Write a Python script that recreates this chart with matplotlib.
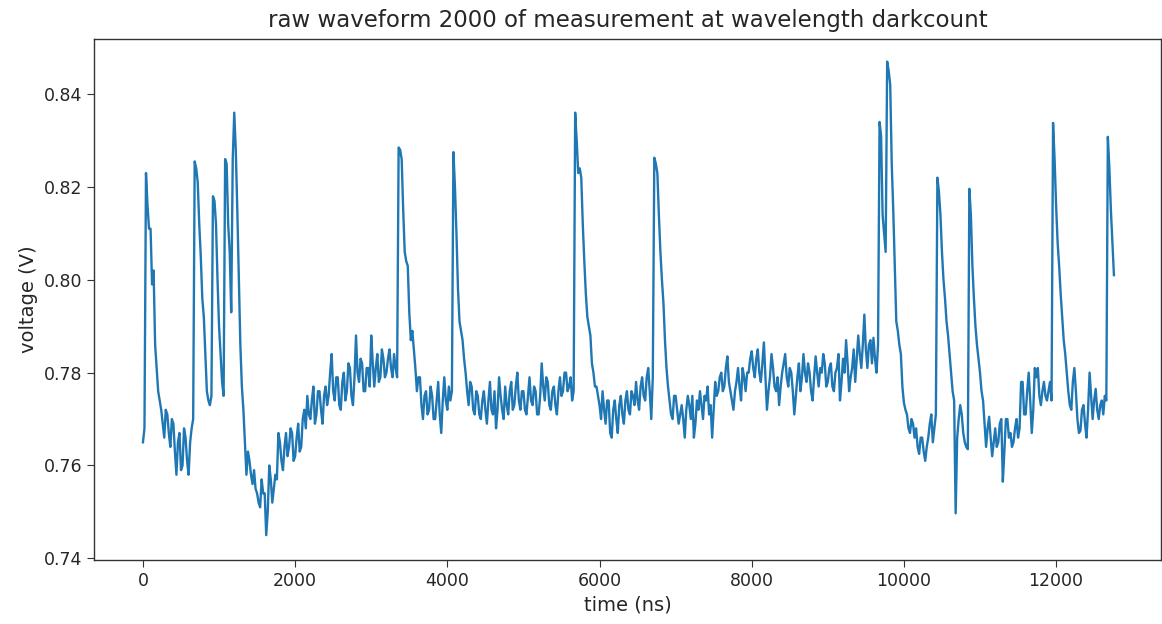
import numpy as np
import matplotlib
matplotlib.use("Agg")
import matplotlib.pyplot as plt

sample_step_ns = 20

voltage = [
    # 0 - 980 ns
    0.765, 0.768, 0.823, 0.816, 0.811, 0.811, 0.799, 0.802, 0.786, 0.781,
    0.776, 0.774, 0.772, 0.769, 0.766, 0.772, 0.771, 0.767, 0.764, 0.770,
    0.769, 0.763, 0.758, 0.765, 0.767, 0.759, 0.760, 0.768, 0.766, 0.761,
    0.758, 0.765, 0.768, 0.770, 0.8255, 0.824, 0.821, 0.812, 0.805, 0.796,
    0.792, 0.784, 0.776, 0.774, 0.773, 0.775, 0.818, 0.817, 0.812, 0.800,
    # 1000 - 1980 ns
    0.790, 0.784, 0.778, 0.775, 0.826, 0.825, 0.812, 0.806, 0.793, 0.826,
    0.836, 0.828, 0.815, 0.800, 0.786, 0.777, 0.772, 0.765, 0.758, 0.763,
    0.761, 0.758, 0.756, 0.759, 0.755, 0.754, 0.752, 0.751, 0.757, 0.754,
    0.754, 0.745, 0.750, 0.760, 0.757, 0.752, 0.755, 0.758, 0.757, 0.767,
    0.765, 0.761, 0.759, 0.764, 0.767, 0.762, 0.764, 0.768, 0.767, 0.761,
    # 2000 - 2980 ns
    0.762, 0.766, 0.769, 0.763, 0.764, 0.770, 0.772, 0.768, 0.775, 0.771,
    0.770, 0.774, 0.777, 0.769, 0.771, 0.776, 0.776, 0.772, 0.769, 0.775,
    0.777, 0.773, 0.775, 0.780, 0.784, 0.776, 0.774, 0.779, 0.779, 0.773,
    0.772, 0.778, 0.780, 0.774, 0.776, 0.782, 0.781, 0.775, 0.773, 0.779,
    0.788, 0.780, 0.778, 0.783, 0.782, 0.776, 0.776, 0.781, 0.781, 0.777,
    # 3000 - 3980 ns
    0.788, 0.782, 0.777, 0.781, 0.784, 0.778, 0.779, 0.785, 0.783, 0.779,
    0.780, 0.783, 0.785, 0.781, 0.779, 0.784, 0.781, 0.779, 0.8285, 0.828,
    0.826, 0.815, 0.806, 0.804, 0.803, 0.793, 0.787, 0.789, 0.785, 0.781,
    0.776, 0.779, 0.779, 0.773, 0.770, 0.775, 0.776, 0.771, 0.772, 0.777,
    0.775, 0.770, 0.770, 0.774, 0.778, 0.771, 0.767, 0.774, 0.779, 0.774,
    # 4000 - 4980 ns
    0.772, 0.777, 0.774, 0.776, 0.8275, 0.820, 0.810, 0.798, 0.791, 0.789,
    0.787, 0.783, 0.780, 0.776, 0.773, 0.778, 0.777, 0.772, 0.771, 0.776,
    0.775, 0.771, 0.770, 0.774, 0.776, 0.772, 0.769, 0.774, 0.778, 0.772,
    0.771, 0.776, 0.768, 0.772, 0.779, 0.775, 0.772, 0.770, 0.777, 0.773,
    0.771, 0.776, 0.778, 0.772, 0.773, 0.777, 0.780, 0.774, 0.772, 0.776,
    # 5000 - 5980 ns
    0.776, 0.772, 0.771, 0.775, 0.779, 0.774, 0.773, 0.777, 0.776, 0.771,
    0.771, 0.775, 0.782, 0.777, 0.774, 0.779, 0.778, 0.773, 0.772, 0.776,
    0.777, 0.773, 0.771, 0.776, 0.779, 0.775, 0.776, 0.780, 0.780, 0.776,
    0.777, 0.779, 0.774, 0.776, 0.836, 0.830, 0.823, 0.824, 0.822, 0.812,
    0.804, 0.797, 0.792, 0.790, 0.788, 0.782, 0.780, 0.777, 0.777, 0.775,
    # 6000 - 6980 ns
    0.773, 0.770, 0.776, 0.772, 0.769, 0.774, 0.774, 0.767, 0.766, 0.772,
    0.774, 0.770, 0.767, 0.773, 0.775, 0.771, 0.769, 0.774, 0.776, 0.772,
    0.771, 0.776, 0.775, 0.773, 0.778, 0.774, 0.772, 0.777, 0.779, 0.775,
    0.774, 0.779, 0.781, 0.776, 0.770, 0.779, 0.8263, 0.825, 0.823, 0.814,
    0.806, 0.800, 0.795, 0.787, 0.781, 0.777, 0.774, 0.771, 0.770, 0.775,
    # 7000 - 7980 ns
    0.775, 0.772, 0.769, 0.771, 0.773, 0.770, 0.766, 0.772, 0.775, 0.773,
    0.770, 0.775, 0.766, 0.769, 0.774, 0.772, 0.776, 0.773, 0.770, 0.775,
    0.774, 0.777, 0.771, 0.773, 0.766, 0.772, 0.778, 0.775, 0.776, 0.779,
    0.780, 0.776, 0.777, 0.781, 0.7835, 0.778, 0.776, 0.774, 0.772, 0.776,
    0.778, 0.781, 0.777, 0.774, 0.781, 0.779, 0.776, 0.780, 0.780, 0.783,
    # 8000 - 8980 ns
    0.7846, 0.781, 0.779, 0.783, 0.785, 0.780, 0.778, 0.782, 0.7865, 0.779,
    0.772, 0.776, 0.779, 0.784, 0.781, 0.777, 0.776, 0.779, 0.773, 0.777,
    0.780, 0.782, 0.784, 0.779, 0.777, 0.781, 0.780, 0.776, 0.771, 0.775,
    0.779, 0.782, 0.776, 0.779, 0.784, 0.780, 0.778, 0.782, 0.780, 0.776,
    0.774, 0.779, 0.7835, 0.780, 0.777, 0.781, 0.780, 0.784, 0.782, 0.777,
    # 9000 - 9980 ns
    0.778, 0.781, 0.782, 0.777, 0.776, 0.780, 0.781, 0.784, 0.774, 0.778,
    0.783, 0.780, 0.787, 0.782, 0.776, 0.779, 0.781, 0.785, 0.778, 0.783,
    0.788, 0.784, 0.781, 0.786, 0.7925, 0.785, 0.781, 0.786, 0.787, 0.782,
    0.7875, 0.783, 0.780, 0.786, 0.834, 0.831, 0.814, 0.810, 0.806, 0.847,
    0.845, 0.842, 0.825, 0.815, 0.803, 0.791, 0.789, 0.786, 0.784, 0.777,
    # 10000 - 10980 ns
    0.7735, 0.772, 0.771, 0.768, 0.767, 0.770, 0.769, 0.766, 0.768, 0.764,
    0.7625, 0.766, 0.766, 0.763, 0.761, 0.764, 0.766, 0.769, 0.771, 0.765,
    0.768, 0.771, 0.822, 0.819, 0.814, 0.806, 0.800, 0.796, 0.791, 0.788,
    0.784, 0.780, 0.776, 0.774, 0.7497, 0.766, 0.770, 0.773, 0.771, 0.767,
    0.765, 0.764, 0.7635, 0.8196, 0.814, 0.803, 0.796, 0.790, 0.786, 0.783,
    # 11000 - 11980 ns
    0.780, 0.776, 0.774, 0.769, 0.764, 0.768, 0.7705, 0.766, 0.762, 0.765,
    0.768, 0.764, 0.765, 0.769, 0.770, 0.7565, 0.763, 0.770, 0.770, 0.766,
    0.767, 0.764, 0.765, 0.768, 0.770, 0.766, 0.768, 0.778, 0.778, 0.771,
    0.771, 0.776, 0.780, 0.774, 0.767, 0.772, 0.781, 0.779, 0.781, 0.775,
    0.773, 0.776, 0.778, 0.775, 0.774, 0.776, 0.778, 0.774, 0.8338, 0.826,
    # 12000 - 12760 ns
    0.816, 0.808, 0.803, 0.797, 0.792, 0.787, 0.784, 0.780, 0.776, 0.773,
    0.772, 0.778, 0.781, 0.776, 0.770, 0.767, 0.7675, 0.772, 0.773, 0.769,
    0.766, 0.772, 0.780, 0.775, 0.770, 0.774, 0.7765, 0.772, 0.770, 0.773,
    0.774, 0.771, 0.775, 0.774, 0.8308, 0.824, 0.815, 0.808, 0.801,
]

time_ns = np.arange(len(voltage)) * sample_step_ns

title = "raw waveform 2000 of measurement at wavelength darkcount"
xlabel = "time (ns)"
ylabel = "voltage (V)"

fig = plt.figure(figsize=(11.62, 6.24), dpi=100)
ax = fig.add_axes([0.0813, 0.103, 0.9182, 0.834])
ax.plot(time_ns, voltage, color="#1f77b4", linewidth=1.7)
ax.set_xlim(-637, 13384)
ax.set_ylim(0.7397, 0.8518)
ax.set_yticks([0.74, 0.76, 0.78, 0.80, 0.82, 0.84])
ax.set_xticks([0, 2000, 4000, 6000, 8000, 10000, 12000])
ax.tick_params(labelsize=12.5, length=5, colors="#333333", labelcolor="#262626")
ax.set_xlabel(xlabel, fontsize=14, color="#262626")
ax.set_ylabel(ylabel, fontsize=14, color="#262626")
ax.set_title(title, fontsize=16.5, pad=9, color="#262626")
for s in ax.spines.values():
    s.set_linewidth(1.0)
    s.set_color("#333333")
fig.savefig("out.png", dpi=100)
